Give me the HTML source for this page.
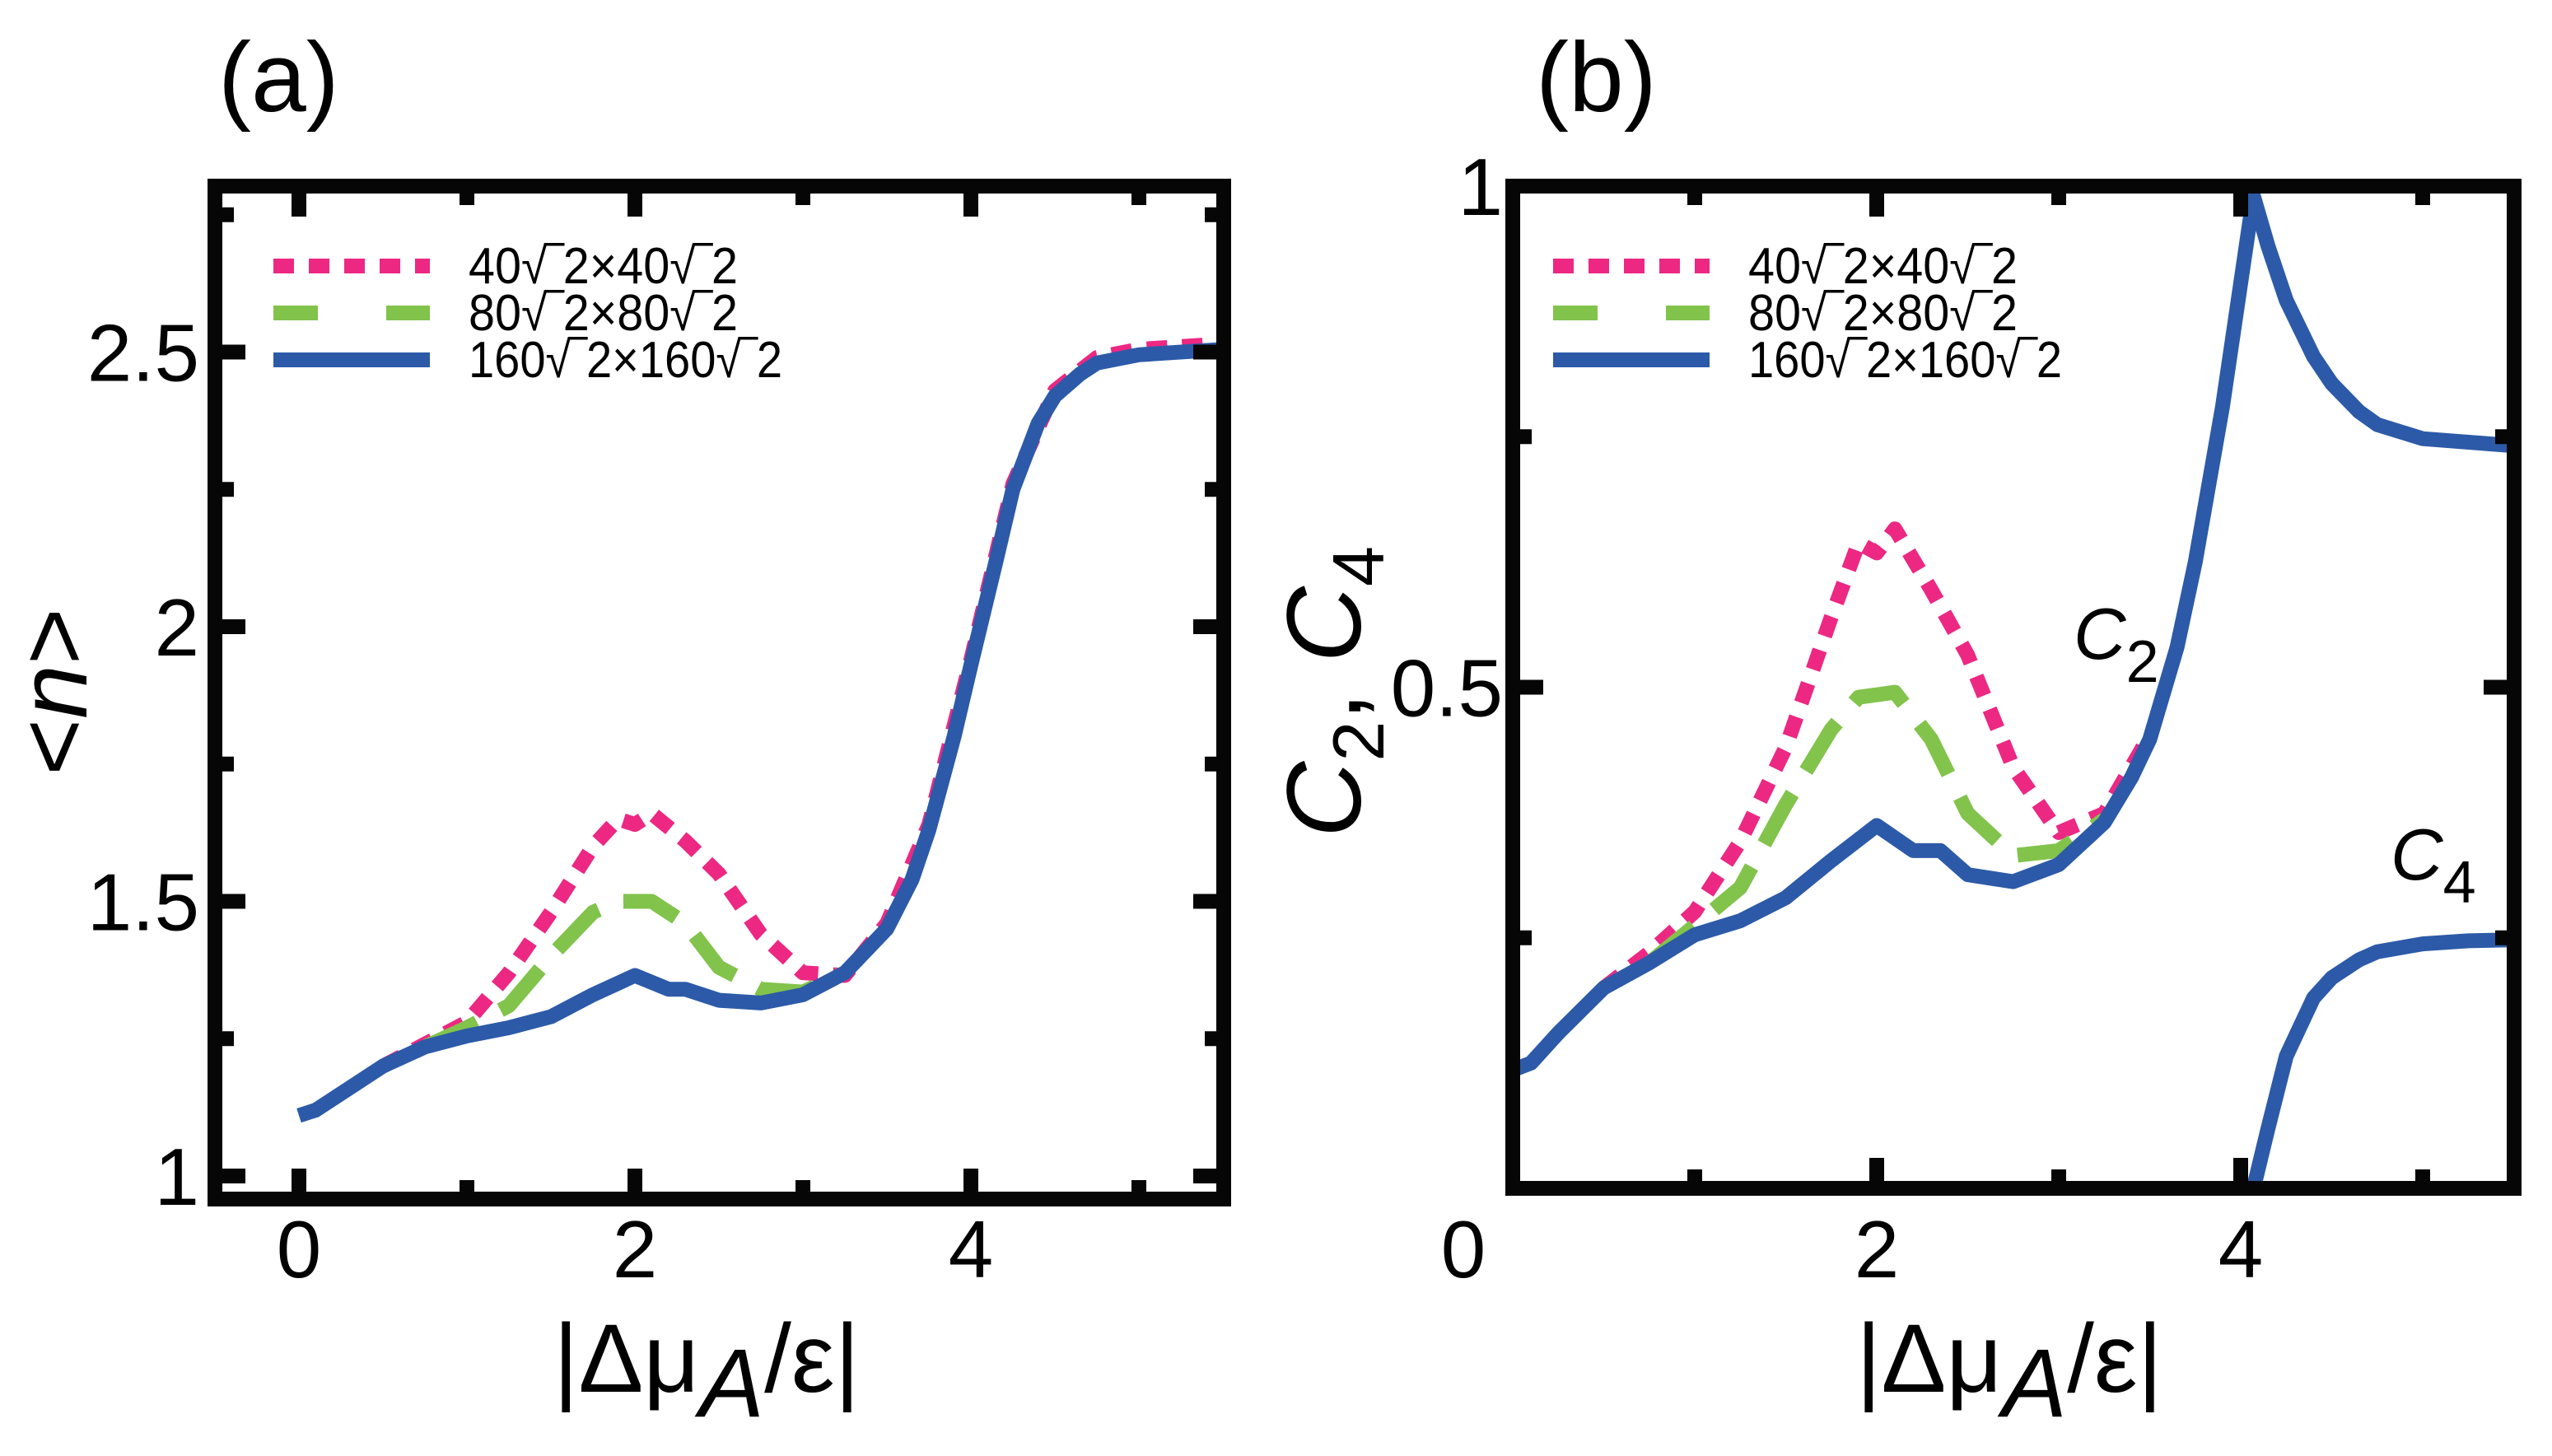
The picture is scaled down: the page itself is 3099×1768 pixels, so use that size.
<!DOCTYPE html>
<html><head><meta charset="utf-8"><style>
html,body{margin:0;padding:0;background:#fff;}
svg{display:block;}
text{font-family:"Liberation Sans","DejaVu Sans",sans-serif;fill:#000;}
</style></head><body>
<svg id="fig" width="3099" height="1768" viewBox="0 0 3099 1768" xmlns="http://www.w3.org/2000/svg">
<defs>
<clipPath id="clipA"><rect x="261" y="226" width="1225" height="1230"/></clipPath>
<clipPath id="clipB"><rect x="1837" y="226" width="1216" height="1217"/></clipPath>
</defs>
<g id="panelA"></g>
<g id="panelB"></g>
<g>
<text x="265" y="135" font-size="120">(a)</text>
<text x="1865" y="135" font-size="120">(b)</text>
<text x="1777" y="1551" font-size="98" text-anchor="middle">0</text>
<text x="858" y="1690" font-size="118" text-anchor="middle">|Δμ<tspan dy="30" font-style="italic">A</tspan><tspan dy="-30">/ε|</tspan></text>
<text x="2440" y="1690" font-size="118" text-anchor="middle">|Δμ<tspan dy="30" font-style="italic">A</tspan><tspan dy="-30">/ε|</tspan></text>
<text transform="translate(105,840) rotate(-90)" font-size="118" text-anchor="middle">&lt;<tspan font-style="italic">n</tspan>&gt;</text>
<text transform="translate(1652,840) rotate(-90)" font-size="128" text-anchor="middle"><tspan font-style="italic">C</tspan><tspan font-size="88" dy="28">2</tspan><tspan dy="-28">,  </tspan><tspan font-style="italic">C</tspan><tspan font-size="88" dy="28">4</tspan></text>
<text x="2518" y="800" font-size="88"><tspan font-style="italic">C</tspan><tspan font-size="72" dy="28">2</tspan></text>
<text x="2903" y="1068" font-size="88"><tspan font-style="italic">C</tspan><tspan font-size="72" dy="28">4</tspan></text>
</g>
</svg>
<script>
// ---- Panel (a) data ----
const aBlueX = [0,0.1,0.25,0.5,0.75,1,1.25,1.5,1.75,2,2.2,2.3,2.5,2.75,3,3.25,3.5,3.65,3.75,3.9,4,4.15,4.25,4.4,4.5,4.65,4.75,5,5.5];
const aBlueY = [1.11,1.12,1.15,1.2,1.235,1.255,1.27,1.29,1.33,1.365,1.34,1.34,1.32,1.315,1.33,1.37,1.45,1.54,1.63,1.8,1.93,2.12,2.25,2.37,2.42,2.46,2.48,2.495,2.505];
const aPinkX = [0.5,0.75,1,1.25,1.5,1.75,1.9,2,2.1,2.3,2.5,2.75,3,3.25,3.5,3.75,4,4.25,4.5,4.75,5,5.5];
const aPinkY = [1.2,1.24,1.28,1.37,1.48,1.6,1.65,1.64,1.66,1.61,1.55,1.44,1.37,1.365,1.46,1.64,1.94,2.26,2.43,2.49,2.505,2.515];
const aGreenX = [0.75,1,1.25,1.5,1.75,1.9,2,2.1,2.3,2.5,2.75,3,3.25];
const aGreenY = [1.235,1.27,1.31,1.4,1.48,1.5,1.5,1.5,1.46,1.38,1.34,1.335,1.37];
const aXTicks = [0,2,4];
const aXMinor = [1,3,5];
const aYTicks = [1,1.5,2,2.5];
const aYTickLabels = ["1","1.5","2","2.5"];
const aYMinor = [1.25,1.75,2.25,2.75];
// ---- Panel (b) data ----
const bBlueX = [0,0.1,0.25,0.5,0.75,1,1.25,1.5,1.75,2,2.2,2.35,2.5,2.75,3,3.25,3.4,3.5,3.65,3.75,3.9,4.07,4.15,4.25,4.4,4.5,4.65,4.75,5,5.5];
const bBlueY = [0.118,0.125,0.155,0.2,0.225,0.253,0.267,0.29,0.327,0.362,0.337,0.337,0.313,0.306,0.323,0.365,0.41,0.448,0.54,0.625,0.78,0.99,0.94,0.886,0.83,0.803,0.775,0.762,0.748,0.741];
const bPinkX = [0.5,0.75,1,1.25,1.5,1.75,1.9,2,2.1,2.3,2.5,2.75,3,3.25,3.5];
const bPinkY = [0.2,0.235,0.276,0.346,0.44,0.57,0.644,0.634,0.658,0.597,0.532,0.42,0.355,0.374,0.452];
const bGreenX = [0.75,1,1.25,1.5,1.75,1.9,2.1,2.3,2.5,2.75,3,3.25];
const bGreenY = [0.225,0.262,0.3,0.383,0.458,0.49,0.495,0.448,0.374,0.332,0.337,0.368];
const bC4X = [4.07,4.15,4.25,4.4,4.5,4.65,4.75,5,5.25,5.5];
const bC4Y = [0,0.06,0.132,0.19,0.21,0.228,0.236,0.244,0.247,0.248];
const bXTicks = [2,4];
const bXMinor = [1,3,5];
const bYTicks = [0.5,1];
const bYMinor = [0.25,0.75];

const NS = "http://www.w3.org/2000/svg";
function mk(tag, attrs, parent){
  const e = document.createElementNS(NS, tag);
  for (const k in attrs) e.setAttribute(k, attrs[k]);
  parent.appendChild(e);
  return e;
}
function pathFrom(xs, ys, sx, sy){
  return xs.map((x,i)=>(i?"L":"M")+sx(x).toFixed(1)+","+sy(ys[i]).toFixed(1)).join(" ");
}

function drawPanel(g, cfg){
  const sx = v => cfg.x0 + (v - cfg.xmin) * cfg.kx;
  const sy = v => cfg.y0 - (v - cfg.ymin) * cfg.ky;
  const curves = mk("g", {"clip-path":"url(#"+cfg.clip+")"}, g);
  
  
  cfg.series.forEach(s=>{
    const p = mk("path", {d:pathFrom(s.x, s.y, sx, sy), fill:"none", stroke:s.color, "stroke-width":18, "stroke-linejoin":"round"}, curves);
    if (s.dash) p.setAttribute("stroke-dasharray", s.dash);
    
    
  });
  const L = cfg.left, R = cfg.right, T = cfg.top, B = cfg.bottom;
  const fr = mk("rect", {x:L, y:T, width:R-L, height:B-T, fill:"none", stroke:"#060606", "stroke-width":18}, g);
  
  
  const tick = (x1,y1,x2,y2,nm)=>{
    const t = mk("line", {x1:x1,y1:y1,x2:x2,y2:y2, stroke:"#060606", "stroke-width":18}, g);
    
    
  };
  cfg.xt.forEach(v=>{ tick(sx(v),B,sx(v),B-37,'x-tick'); tick(sx(v),T,sx(v),T+37,'x-tick'); });
  cfg.xm.forEach(v=>{ tick(sx(v),B,sx(v),B-23,'x-minor-tick'); tick(sx(v),T,sx(v),T+23,'x-minor-tick'); });
  cfg.yt.forEach(v=>{ tick(L,sy(v),L+37,sy(v),'y-tick'); tick(R,sy(v),R-37,sy(v),'y-tick'); });
  cfg.ym.forEach(v=>{ tick(L,sy(v),L+23,sy(v),'y-minor-tick'); tick(R,sy(v),R-23,sy(v),'y-minor-tick'); });
  cfg.xt.forEach((v,i)=>{
    const t = mk("text", {x:sx(v), y:1551, "font-size":98, "text-anchor":"middle"}, g);
    t.textContent = cfg.xtl[i];
    
    
  });
  cfg.yt.forEach((v,i)=>{
    const t = mk("text", {x:cfg.ylabX, y:sy(v)+35, "font-size":98, "text-anchor":"end"}, g);
    t.textContent = cfg.ytl[i];
    
    
  });
  const lx = cfg.legX, tx = cfg.legX + 237;
  const rows = [
    {c:"#ec2883", dash:"25 18", txt:"40√‾2×40√‾2", w:327, nm:"legend-entry-40"},
    {c:"#82c34c", dash:"54 83", txt:"80√‾2×80√‾2", w:327, nm:"legend-entry-80"},
    {c:"#2c5aa8", dash:null, txt:"160√‾2×160√‾2", w:381, nm:"legend-entry-160"}
  ];
  rows.forEach((r,i)=>{
    const y = 323 + i*57;
    const lg = mk("g", {}, g);
    
    
    const ln = mk("line", {x1:lx, y1:y, x2:lx+190, y2:y, stroke:r.c, "stroke-width":18}, lg);
    if (r.dash) ln.setAttribute("stroke-dasharray", r.dash);
    const t = mk("text", {x:tx, y:y+21, "font-size":62, textLength:r.w, lengthAdjust:"spacingAndGlyphs"}, lg);
    t.textContent = r.txt;
  });
}

drawPanel(document.getElementById("panelA"), {
  x0:363, xmin:0, kx:204, y0:1428, ymin:1, ky:667, clip:"clipA",
  left:261, right:1486, top:226, bottom:1456,
  xt:aXTicks, xtl:["0","2","4"], xm:aXMinor, yt:aYTicks, ytl:aYTickLabels, ym:aYMinor,
  ylabX:242, legX:332,
  series:[
    {x:aPinkX, y:aPinkY, color:"#ec2883", dash:"25 18", name:"series-40"},
    {x:aGreenX, y:aGreenY, color:"#82c34c", dash:"70 32", name:"series-80"},
    {x:aBlueX, y:aBlueY, color:"#2c5aa8", name:"series-160"}
  ]
});
drawPanel(document.getElementById("panelB"), {
  x0:1837, xmin:0, kx:221, y0:1443, ymin:0, ky:1217, clip:"clipB",
  left:1837, right:3053, top:226, bottom:1443,
  xt:bXTicks, xtl:["2","4"], xm:bXMinor, yt:bYTicks, ytl:["0.5","1"], ym:bYMinor,
  ylabX:1825, legX:1886,
  series:[
    {x:bPinkX, y:bPinkY, color:"#ec2883", dash:"25 18", name:"series-40-c2"},
    {x:bGreenX, y:bGreenY, color:"#82c34c", dash:"70 32", name:"series-80-c2"},
    {x:bBlueX, y:bBlueY, color:"#2c5aa8", name:"series-160-c2"},
    {x:bC4X, y:bC4Y, color:"#2c5aa8", name:"series-160-c4"}
  ]
});
</script>
</body></html>
